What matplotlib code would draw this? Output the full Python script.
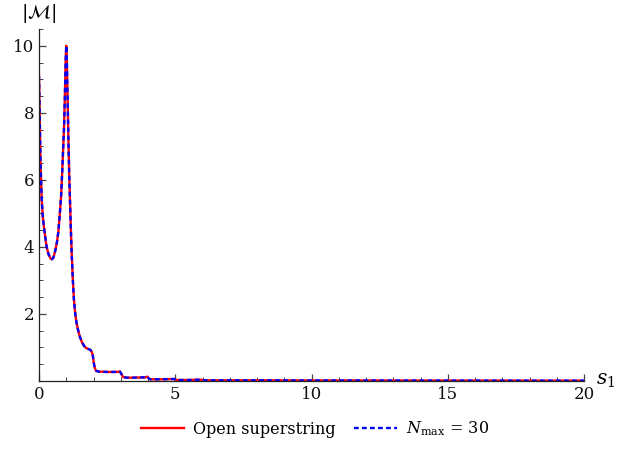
import numpy as np
import matplotlib
matplotlib.use("Agg")
import matplotlib.pyplot as plt
from matplotlib.ticker import MultipleLocator

plt.rcParams["font.family"] = ["DejaVu Serif"]
plt.rcParams["mathtext.fontset"] = "dejavuserif"

# |M| against s1
s1 = [0.00, 0.02, 0.04, 0.06, 0.08, 0.10, 0.14, 0.18, 0.22, 0.28,
      0.35, 0.42, 0.47, 0.53, 0.60, 0.66, 0.71, 0.76, 0.81, 0.85,
      0.89, 0.92, 0.95, 0.98, 1.00, 1.02, 1.05, 1.08, 1.11, 1.14,
      1.17, 1.20, 1.24, 1.28, 1.33, 1.38, 1.44, 1.50, 1.58, 1.66,
      1.74, 1.82, 1.88, 1.93, 1.97, 2.00, 2.03, 2.06, 2.10, 2.20,
      2.50, 2.80, 2.97, 3.03, 3.08, 3.20, 3.50, 3.90, 3.98, 4.03,
      4.10, 4.50, 4.95, 5.05, 5.50, 5.95, 6.05, 7.00, 8.00, 10.0,
      12.0, 15.0, 18.0, 20.0]
m_open = [9.10, 8.20, 7.20, 6.40, 5.90, 5.40, 4.90, 4.60, 4.35, 4.00,
          3.78, 3.66, 3.63, 3.68, 3.90, 4.15, 4.45, 4.95, 5.50, 6.20,
          7.00, 7.60, 8.50, 9.60, 10.0, 9.60, 8.40, 7.20, 6.10, 5.30,
          4.50, 3.80, 3.05, 2.45, 2.00, 1.72, 1.50, 1.32, 1.15, 1.04,
          0.98, 0.95, 0.93, 0.88, 0.78, 0.60, 0.45, 0.36, 0.30, 0.28,
          0.27, 0.27, 0.28, 0.20, 0.12, 0.10, 0.10, 0.11, 0.13, 0.07,
          0.05, 0.05, 0.06, 0.03, 0.03, 0.04, 0.02, 0.02, 0.02, 0.015,
          0.015, 0.012, 0.01, 0.01]
# truncated sum with N_max = 30 lies on top of the exact result
m_nmax30 = list(m_open)

fig = plt.figure(figsize=(6.34, 4.5), dpi=100)
ax = fig.add_axes([39 / 634, 1 - 381 / 450, 545 / 634, 352 / 450])

ax.plot(s1, m_open, color="#ff0000", lw=1.7, label="Open superstring")
ax.plot(s1, m_nmax30, color="#0000ff", lw=1.7, dashes=(2.0, 1.4),
        label=r"$N_{\mathrm{max}}$ = 30")

ax.set_xlim(0, 20)
ax.set_ylim(0, 10.5)
for side in ("top", "right"):
    ax.spines[side].set_visible(False)
for side in ("left", "bottom"):
    ax.spines[side].set_color("#222222")
    ax.spines[side].set_linewidth(0.9)

ax.xaxis.set_major_locator(MultipleLocator(5))
ax.xaxis.set_minor_locator(MultipleLocator(1))
ax.yaxis.set_minor_locator(MultipleLocator(0.5))
ax.set_yticks([2, 4, 6, 8, 10])
ax.tick_params(which="both", direction="in", color="#444444", labelsize=12,
               labelcolor="#111111")
ax.tick_params(which="major", length=5, width=0.9)
ax.tick_params(which="minor", length=3, width=0.7)

ax.text(20.45, 0, r"$s_1$", fontsize=14.5, ha="left", va="center")
ax.text(0, 10.95, r"$|\mathcal{M}|$", fontsize=14, ha="center", va="center")

fig.legend(loc="center", bbox_to_anchor=(0.497, 1 - 429 / 450), ncol=2,
           frameon=False, fontsize=11.5, handlelength=2.7, handletextpad=0.6,
           columnspacing=1.1)

fig.savefig("out.png", dpi=100)
